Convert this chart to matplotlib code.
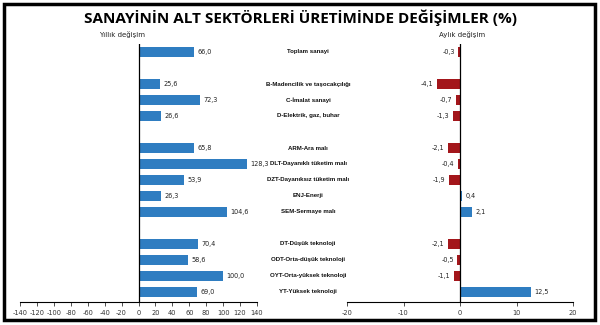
import matplotlib
matplotlib.use('Agg')
import matplotlib.pyplot as plt
from matplotlib.patches import Rectangle

plt.rcParams['axes.unicode_minus'] = False

# sectors, top to bottom (None = empty spacer row)
categories = ['Toplam sanayi', None,
              'B-Madencilik ve taşocakçılığı', 'C-İmalat sanayi', 'D-Elektrik, gaz, buhar', None,
              'ARM-Ara malı', 'DLT-Dayanıklı tüketim malı', 'DZT-Dayanıksız tüketim malı',
              'ENJ-Enerji', 'SEM-Sermaye malı', None,
              'DT-Düşük teknoloji', 'ODT-Orta-düşük teknoloji', 'OYT-Orta-yüksek teknoloji',
              'YT-Yüksek teknoloji']
annual = [66.0, None, 25.6, 72.3, 26.6, None, 65.8, 128.3, 53.9, 26.3, 104.6, None,
          70.4, 58.6, 100.0, 69.0]
monthly = [-0.3, None, -4.1, -0.7, -1.3, None, -2.1, -0.4, -1.9, 0.4, 2.1, None,
           -2.1, -0.5, -1.1, 12.5]

blue = '#2F7DC1'
red = '#A3161B'
W, H = 600, 325

fig = plt.figure(figsize=(6, 3.25), dpi=100)
fig.patch.set_facecolor('white')

top_px, bot_px = 44, 301.6
ax1 = fig.add_axes([20 / W, 1 - bot_px / H, 237 / W, (bot_px - top_px) / H])
ax2 = fig.add_axes([347 / W, 1 - bot_px / H, 226 / W, (bot_px - top_px) / H])

rows = [i for i, c in enumerate(categories) if c is not None]


def fmt(v):
    return ('%.1f' % v).replace('.', ',')


for ax, vals, lim, step in [(ax1, annual, 140, 20), (ax2, monthly, 20, 10)]:
    ys = [i for i in rows]
    vs = [vals[i] for i in rows]
    cols = [blue if v >= 0 else red for v in vs]
    ax.barh(ys, vs, height=0.65, color=cols, zorder=2)
    ax.set_xlim(-lim, lim)
    ax.set_ylim(15.6, -0.5)
    ax.axvline(0, color='black', lw=0.9, zorder=3)
    for s in ['top', 'right', 'left']:
        ax.spines[s].set_visible(False)
    ax.spines['bottom'].set_linewidth(0.8)
    ax.set_yticks([])
    ax.set_xticks(range(-lim, lim + 1, step))
    ax.tick_params(axis='x', labelsize=4.8, colors='#333333', length=3, width=0.6, pad=3)
    for y, v in zip(ys, vs):
        if v >= 0:
            ax.annotate(fmt(v), (v, y), xytext=(2.5, 0), textcoords='offset points',
                        ha='left', va='center', fontsize=4.7, color='#222222')
        else:
            ax.annotate(fmt(v), (v, y), xytext=(-2.5, 0), textcoords='offset points',
                        ha='right', va='center', fontsize=4.7, color='#222222')

# category labels in the middle
for i, c in enumerate(categories):
    if c is None:
        continue
    ypx = top_px + (i + 0.5) * 16
    fig.text(308 / W, 1 - ypx / H, c, ha='center', va='center', fontsize=4.4,
             fontweight='bold', color='#111111',
             family=['Liberation Sans Narrow', 'Liberation Sans', 'DejaVu Sans'])

fig.text(0.5, 1 - 18 / H, 'SANAYİNİN ALT SEKTÖRLERİ ÜRETİMİNDE DEĞİŞİMLER (%)',
         ha='center', va='center', fontsize=11, fontweight='bold', family='Open Sans')
fig.text(122 / W, 1 - 35 / H, 'Yıllık değişim', ha='center', va='center', fontsize=5,
         color='#222222')
fig.text(462 / W, 1 - 35 / H, 'Aylık değişim', ha='center', va='center', fontsize=5,
         color='#222222')

# outer frame
fig.patches.append(Rectangle((4 / W, 5 / H), 591 / W, 316 / H, transform=fig.transFigure,
                             fill=False, edgecolor='black', lw=2.5))

fig.savefig('out.png', dpi=100)
